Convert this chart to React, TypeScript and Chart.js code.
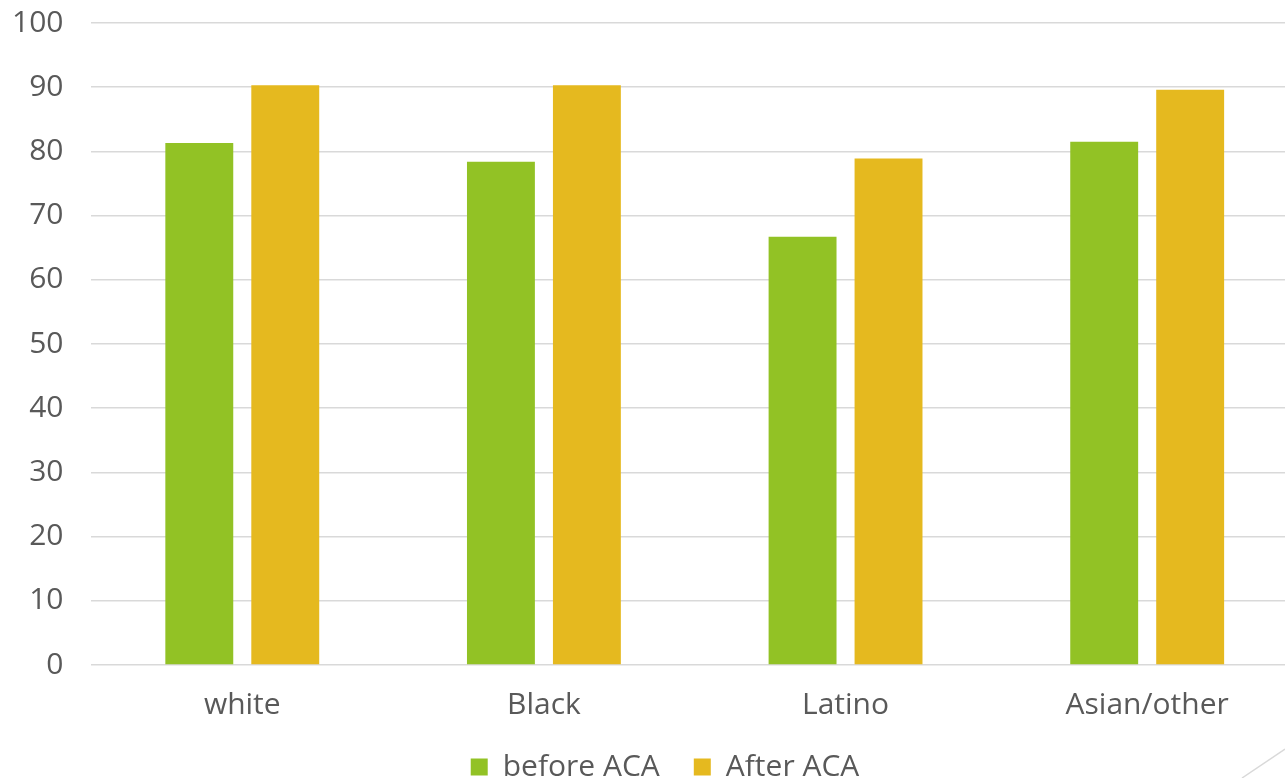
import React, { useEffect, useRef } from "react";
import { Chart, registerables } from "chart.js";

Chart.register(...registerables);

const categories = ["white", "Black", "Latino", "Asian/other"];
const beforeAca = [81.3, 78.4, 66.7, 81.5];
const afterAca = [90.3, 90.3, 78.9, 89.6];
const yTicks = [0, 10, 20, 30, 40, 50, 60, 70, 80, 90, 100];

const FONT = "'Open Sans', 'DejaVu Sans', sans-serif";
const TEXT = "#595959";
const GRID = "#d9d9d9";
const CANVAS_W = 1320;
const CANVAS_H = 792;

export default function App() {
  const canvasRef = useRef<HTMLCanvasElement | null>(null);

  useEffect(() => {
    document.body.style.margin = "0";
    const canvas = canvasRef.current;
    if (!canvas) return;
    const chart = new Chart(canvas, {
      type: "bar",
      data: {
        labels: categories,
        datasets: [
          {
            label: "before ACA",
            data: beforeAca,
            backgroundColor: "#92c225",
            borderWidth: 0,
          },
          {
            label: "After ACA",
            data: afterAca,
            backgroundColor: "#e5b91f",
            borderWidth: 0,
          },
        ],
      },
      options: {
        responsive: false,
        animation: false,
        devicePixelRatio: 1,
        layout: { padding: { left: 10, right: 0, top: 23, bottom: 0 } },
        datasets: {
          bar: { categoryPercentage: 0.57, barPercentage: 0.79 },
        },
        scales: {
          x: {
            grid: { display: false },
            border: { display: false },
            ticks: {
              color: TEXT,
              font: { family: FONT, size: 30 },
              padding: 14,
              maxRotation: 0,
            },
            afterFit: (axis: any) => {
              axis.height -= 19;
            },
          },
          y: {
            min: 0,
            max: 100,
            afterBuildTicks: (axis: any) => {
              axis.ticks = yTicks.map((v) => ({ value: v }));
            },
            afterFit: (axis: any) => {
              // only the gap between labels and plot, none on the outer side
              axis.width -= 26;
              axis.paddingTop = 0;
              axis.paddingBottom = 0;
            },
            grid: { color: GRID, lineWidth: 1.5, drawTicks: false },
            border: { display: false },
            ticks: {
              color: TEXT,
              font: { family: FONT, size: 30 },
              padding: 28,
            },
          },
          // empty strip on the right edge, keeps the plot running past the frame
          edge: {
            type: "linear",
            position: "right",
            display: true,
            grid: { display: false, drawTicks: false },
            border: { display: false },
            ticks: { display: false },
            afterFit: (axis: any) => {
              axis.width = 22;
              axis.paddingTop = 0;
              axis.paddingBottom = 0;
            },
          },
        },
        plugins: {
          legend: {
            position: "bottom",
            labels: {
              color: TEXT,
              font: { family: FONT, size: 30 },
              boxWidth: 17,
              boxHeight: 17,
              padding: 34,
            },
          },
          tooltip: { enabled: false },
        },
      },
    });
    return () => chart.destroy();
  }, []);

  return (
    <div
      style={{
        position: "fixed",
        left: 0,
        top: 0,
        width: 1285,
        height: 778,
        overflow: "hidden",
        background: "#ffffff",
      }}
    >
      <canvas
        ref={canvasRef}
        width={CANVAS_W}
        height={CANVAS_H}
        style={{ position: "absolute", left: 0, top: 0, width: CANVAS_W, height: CANVAS_H }}
      />
      <svg
        width={1285}
        height={778}
        style={{ position: "absolute", left: 0, top: 0, pointerEvents: "none" }}
      >
        <line x1={1242} y1={778} x2={1285} y2={749} stroke="#d9d9d9" strokeWidth={1.5} />
      </svg>
    </div>
  );
}
